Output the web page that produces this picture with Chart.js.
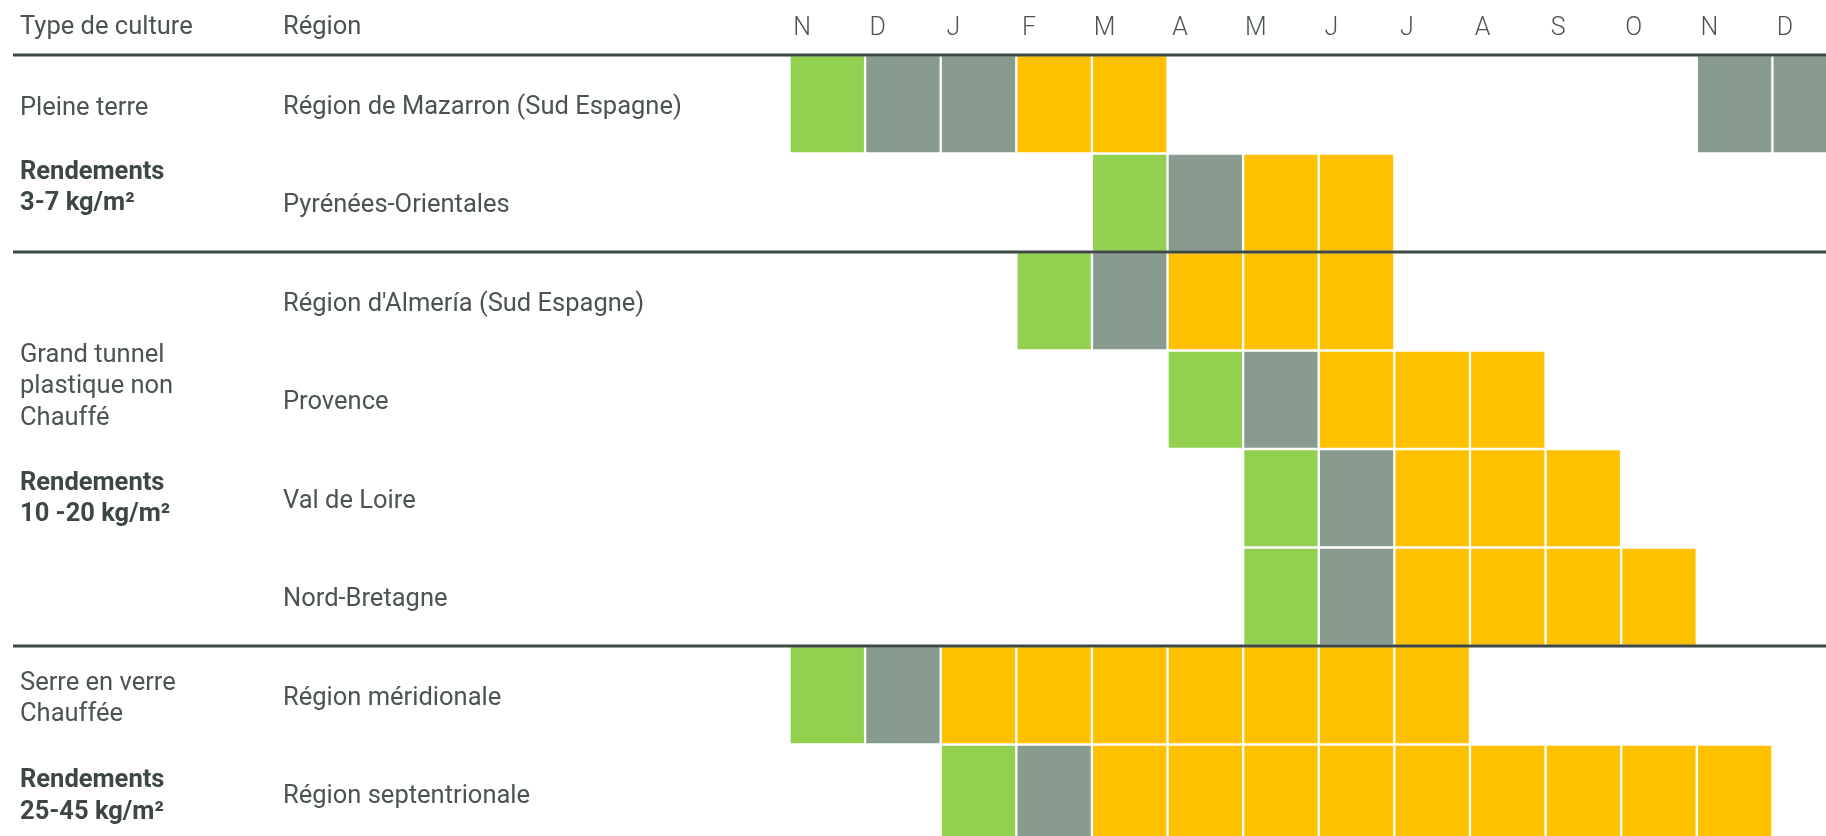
<!DOCTYPE html>
<html lang="fr">
<head>
<meta charset="utf-8">
<title>Calendrier de production</title>
<script src="https://cdn.jsdelivr.net/npm/chart.js@4/dist/chart.umd.min.js"></script>
<style>
  html, body { margin: 0; padding: 0; background: #fff; overflow: hidden; }
  canvas { display: block; }
</style>
</head>
<body>
<!-- the last column and last row run past the window edge, like in the original -->
<canvas id="calendar" width="1848" height="843"></canvas>
<script>
/* Données */
const mois = ['N', 'D', 'J', 'F', 'M', 'A', 'M', 'J', 'J', 'A', 'S', 'O', 'N', 'D']
const regions = [
  'Région de Mazarron (Sud Espagne)',
  'Pyrénées-Orientales',
  "Région d'Almería (Sud Espagne)",
  'Provence',
  'Val de Loire',
  'Nord-Bretagne',
  'Région méridionale',
  'Région septentrionale'
]
// V = plantation, G = croissance, J = récolte, . = rien (un caractère par mois)
const periodes = [
  'VGGJJ.......GG',
  '....VGJJ......',
  '...VGJJJ......',
  '.....VGJJJ....',
  '......VGJJJ...',
  '......VGJJJJ..',
  'VGJJJJJJJ.....',
  '..VGJJJJJJJJJ.'
]
const etapes = ['V', 'G', 'J']
const etapeLabels = ['Plantation', 'Croissance', 'Récolte']
// séparations entre types de culture (entre deux lignes)
const separations = [-0.5, 1.5, 5.5]
const cultures = [
  { at: 0.04, bold: false, lines: ['Pleine terre'] },
  { at: 0.69, bold: true, lines: ['Rendements', '3-7 kg/m²'] },
  { at: 2.55, bold: false, lines: ['Grand tunnel', 'plastique non', 'Chauffé'] },
  { at: 3.85, bold: true, lines: ['Rendements', '10 -20 kg/m²'] },
  { at: 5.88, bold: false, lines: ['Serre en verre', 'Chauffée'] },
  { at: 6.87, bold: true, lines: ['Rendements', '25-45 kg/m²'] }
]

const COLORS = { V: '#92d050', G: '#879b91', J: '#ffc000' }
const TEXT = '#4a5550'
const DARK = '#3d4842'
const FONT = 'Roboto, "Noto Sans", sans-serif'
const LEFT = 789.5
const TOP = 55
const LABEL_X = 283

const canvas = document.getElementById('calendar')

const datasets = etapes.map((etape, k) => ({
  label: etapeLabels[k],
  backgroundColor: COLORS[etape],
  borderColor: '#ffffff',
  borderWidth: 1.5,
  borderSkipped: false,
  data: periodes.flatMap((ligne, i) =>
    ligne.split('')
      .map((c, j) => (c === etape ? { x: [j, j + 1], y: regions[i] } : null))
      .filter(Boolean)
  )
}))

// pixel for a fractional row position on the category axis
const rowPixel = (y, v) => {
  const p0 = y.getPixelForValue(0)
  const p1 = y.getPixelForValue(1)
  return p0 + v * (p1 - p0)
}

const noPadding = (axis) => {
  axis.paddingTop = 0
  axis.paddingBottom = 0
  axis.paddingLeft = 0
  axis.paddingRight = 0
}

const decorations = {
  id: 'decorations',
  afterDatasetsDraw (chart) {
    const { ctx, scales: { y } } = chart
    ctx.save()
    ctx.strokeStyle = DARK
    ctx.lineWidth = 3
    separations.forEach((v) => {
      const py = Math.round(rowPixel(y, v))
      ctx.beginPath()
      ctx.moveTo(13, py)
      ctx.lineTo(chart.width, py)
      ctx.stroke()
    })
    ctx.textBaseline = 'middle'
    ctx.textAlign = 'left'
    ctx.fillStyle = TEXT
    ctx.font = `25.5px ${FONT}`
    ctx.fillText('Type de culture', 20, 28)
    ctx.fillText('Région', LABEL_X, 28)
    cultures.forEach((bloc) => {
      ctx.font = `${bloc.bold ? 'bold ' : ''}25.5px ${FONT}`
      ctx.fillStyle = bloc.bold ? DARK : TEXT
      const y0 = rowPixel(y, bloc.at)
      bloc.lines.forEach((l, n) => ctx.fillText(l, 20, y0 + n * 31.5))
    })
    ctx.restore()
  }
}

new Chart(canvas, {
  type: 'bar',
  data: { labels: regions, datasets },
  options: {
    indexAxis: 'y',
    responsive: false,
    devicePixelRatio: 1,
    animation: false,
    grouped: false,
    categoryPercentage: 1,
    barPercentage: 1,
    layout: { autoPadding: false, padding: { left: LABEL_X, top: 0, right: 0, bottom: 0 } },
    plugins: { legend: { display: false }, tooltip: { enabled: false } },
    scales: {
      x: {
        type: 'linear',
        position: 'top',
        min: 0,
        max: mois.length,
        grid: { display: false, drawTicks: false },
        border: { display: false },
        afterBuildTicks: (axis) => { axis.ticks = mois.map((m, j) => ({ value: j })) },
        afterFit: (axis) => {
          axis.height = TOP
          noPadding(axis)
        },
        ticks: {
          autoSkip: false,
          maxRotation: 0,
          padding: 11,
          labelOffset: 12.6,
          color: TEXT,
          font: { family: FONT, size: 25, weight: 300 },
          callback: (v) => mois[v]
        }
      },
      y: {
        type: 'category',
        offset: true,
        grid: { display: false, drawTicks: false },
        border: { display: false },
        afterFit: (axis) => {
          axis.width = LEFT - LABEL_X
          noPadding(axis)
        },
        ticks: {
          autoSkip: false,
          crossAlign: 'far',
          labelOffset: 3,
          color: TEXT,
          font: { family: FONT, size: 25.5 }
        }
      }
    }
  },
  plugins: [decorations]
})
</script>
</body>
</html>
